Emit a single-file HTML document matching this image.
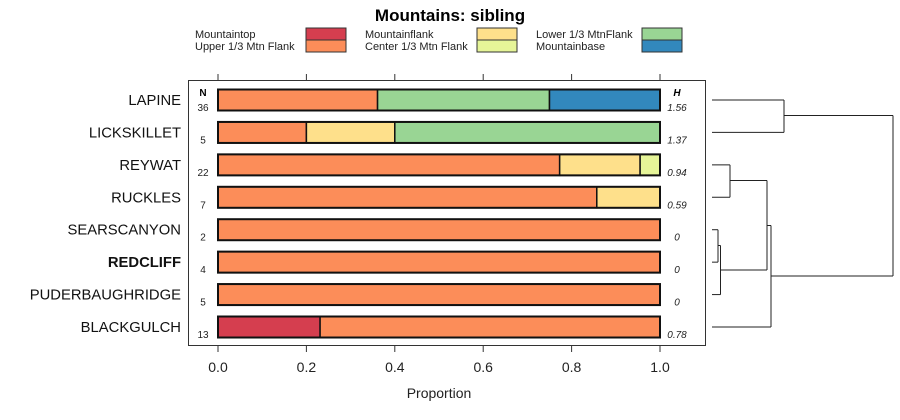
<!DOCTYPE html>
<html><head><meta charset="utf-8"><style>
body{margin:0;background:#fff;}
svg{display:block;font-family:"Liberation Sans",sans-serif;}
</style></head><body>
<svg id="c" width="900" height="420"></svg>
<script>
const categories=["LAPINE","LICKSKILLET","REYWAT","RUCKLES","SEARSCANYON","REDCLIFF","PUDERBAUGHRIDGE","BLACKGULCH"];
const nValues=[36,5,22,7,2,4,5,13];
const hValues=["1.56","1.37","0.94","0.59","0","0","0","0.78"];
const seriesNames=["Mountaintop","Upper 1/3 Mtn Flank","Mountainflank","Center 1/3 Mtn Flank","Lower 1/3 MtnFlank","Mountainbase"];
const seriesColors=["#d53e4f","#fc8d59","#fee08b","#e6f598","#99d594","#3288bd"];
const mountaintop=[0,0,0,0,0,0,0,0.231];
const upperFlank=[0.361,0.2,0.773,0.857,1,1,1,0.769];
const mountainflank=[0,0.2,0.182,0.143,0,0,0,0];
const centerFlank=[0,0,0.045,0,0,0,0,0];
const lowerFlank=[0.389,0.6,0,0,0,0,0,0];
const mountainbase=[0.25,0,0,0,0,0,0,0];
const series=[mountaintop,upperFlank,mountainflank,centerFlank,lowerFlank,mountainbase];
const ticks=[0,0.2,0.4,0.6,0.8,1.0];
const tickLabels=["0.0","0.2","0.4","0.6","0.8","1.0"];

const svg=document.getElementById('c');
const NS="http://www.w3.org/2000/svg";
function el(t,a,txt){const e=document.createElementNS(NS,t);for(const k in a)e.setAttribute(k,a[k]);if(txt!=null)e.textContent=txt;svg.appendChild(e);return e;}
const x=v=>218+v*442;
const y=i=>100+i*32.43;

let e=el('text',{x:450,y:21,'text-anchor':'middle','font-size':17,'font-weight':'bold'},'Mountains: sibling');



const legX=[[195,306],[365,477],[536,642]];
seriesNames.forEach((n,k)=>{
  const col=Math.floor(k/2),row=k%2;
  const t=el('text',{x:legX[col][0],y:38+row*12,'font-size':11,fill:'#222'},n);
  
  
  const r=el('rect',{x:legX[col][1],y:28+row*12,width:40,height:12,fill:seriesColors[k],stroke:'#333','stroke-width':1});
  
  
});

const p=el('rect',{x:188.5,y:80.5,width:517,height:265,fill:'none',stroke:'#333','stroke-width':1});



ticks.forEach((t,i)=>{
  el('line',{x1:x(t),x2:x(t),y1:74,y2:80,stroke:'#333'});
  el('line',{x1:x(t),x2:x(t),y1:346,y2:352,stroke:'#333'});
  const l=el('text',{x:x(t),y:372,'text-anchor':'middle','font-size':14,fill:'#222'},tickLabels[i]);
  
  
});
e=el('text',{x:439,y:398,'text-anchor':'middle','font-size':14,fill:'#222'},'Proportion');



e=el('text',{x:203,y:96,'text-anchor':'middle','font-size':10,'font-weight':'bold'},'N');


e=el('text',{x:677,y:96,'text-anchor':'middle','font-size':10,'font-weight':'bold','font-style':'italic'},'H');



categories.forEach((c,i)=>{
  const cy=y(i);
  const lab=el('text',{x:181,y:cy+5,'text-anchor':'end','font-size':14.8,fill:'#111','font-weight':c==='REDCLIFF'?'bold':'normal'},c);
  
  
  const n=el('text',{x:203,y:cy+11,'text-anchor':'middle','font-size':10,fill:'#222'},String(nValues[i]));
  
  
  const h=el('text',{x:677,y:cy+11,'text-anchor':'middle','font-size':10,'font-style':'italic',fill:'#222'},hValues[i]);
  
  
  let acc=0;
  series.forEach((s,k)=>{
    const v=s[i]; if(v<=0) return;
    const r=el('rect',{x:x(acc),y:cy-10.5,width:x(acc+v)-x(acc),height:21,fill:seriesColors[k],stroke:'#111','stroke-width':1.5});
    
    
    acc+=v;
  });
  const o=el('rect',{x:x(0),y:cy-10.5,width:x(1)-x(0),height:21,fill:'none',stroke:'#111','stroke-width':2});
  
  
});

// dendrogram
const segs=[
 [712,y(0),784,y(0)],[712,y(1),784,y(1)],[784,y(0),784,y(1)],
 [784,115.5,893,115.5],
 [712,y(2),730,y(2)],[712,y(3),730,y(3)],[730,y(2),730,y(3)],
 [712,y(4),718,y(4)],[712,y(5),718,y(5)],[718,y(4),718,y(5)],
 [718,245.5,720.5,245.5],[712,y(6),720.5,y(6)],[720.5,245.5,720.5,y(6)],
 [730,180.5,767,180.5],[720.5,270,767,270],[767,180.5,767,270],
 [767,225.5,771,225.5],[712,y(7),771,y(7)],[771,225.5,771,y(7)],
 [771,276,893,276],[893,115.5,893,276]
];
segs.forEach(s=>{
  const l=el('line',{x1:s[0],y1:s[1],x2:s[2],y2:s[3],stroke:'#222','stroke-width':1});
  
  
});
</script>
</body></html>
